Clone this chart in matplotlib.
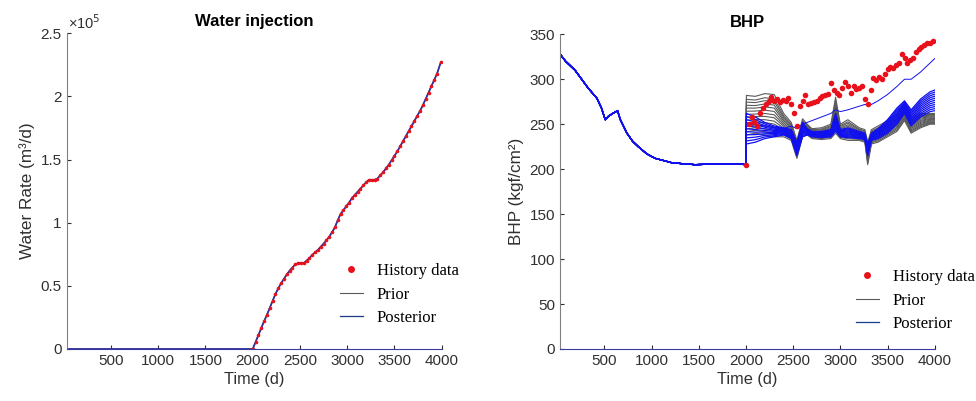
import numpy as np
import matplotlib.pyplot as plt
from matplotlib.lines import Line2D
from matplotlib.ticker import FuncFormatter

plt.rcParams['font.family'] = ['Liberation Sans', 'DejaVu Sans']

# ---- water injection (x1e5 m3/d), history every 30 days from day 2000
wi_time = [2000, 2030, 2060, 2090, 2120, 2150, 2180, 2210, 2240, 2270, 2300, 2330,
           2360, 2390, 2420, 2450, 2480, 2510, 2540, 2570, 2600, 2630, 2660, 2690,
           2720, 2750, 2780, 2810, 2840, 2870, 2900, 2930, 2960, 2990, 3020, 3050,
           3080, 3110, 3140, 3170, 3200, 3230, 3260, 3290, 3320, 3350, 3380, 3410,
           3440, 3470, 3500, 3530, 3560, 3590, 3620, 3650, 3680, 3710, 3740, 3770,
           3800, 3830, 3860, 3890, 3920, 3950, 3990]
wi_rate = [0.0, 0.055, 0.11, 0.165, 0.22, 0.27, 0.325, 0.38, 0.435, 0.48, 0.52, 0.555,
           0.59, 0.62, 0.645, 0.67, 0.68, 0.68, 0.68, 0.70, 0.72, 0.745, 0.765, 0.785,
           0.81, 0.835, 0.86, 0.89, 0.925, 0.965, 1.02, 1.07, 1.10, 1.13, 1.16, 1.195,
           1.22, 1.245, 1.27, 1.295, 1.32, 1.34, 1.34, 1.34, 1.35, 1.375, 1.40, 1.43,
           1.46, 1.495, 1.53, 1.565, 1.605, 1.645, 1.685, 1.725, 1.765, 1.805, 1.845, 1.885,
           1.93, 1.98, 2.03, 2.08, 2.13, 2.18, 2.27]

# ---- BHP, common part before water injection starts
bhp_pre_t = [31, 90, 190, 260, 330, 420, 470, 510, 545, 590, 640, 670, 740, 800,
             860, 950, 1040, 1220, 1460, 1600, 1750, 1900, 2000]
bhp_pre = [328, 320, 310, 300, 290, 279, 268, 255, 259, 262, 265, 255, 240, 231,
           225, 217, 212, 207, 205, 205.5, 206, 206, 205]

# ensemble envelopes after day 2000
ens_t = [2005, 2100, 2200, 2300, 2400, 2480, 2540, 2600, 2650, 2700, 2800, 2900, 2950,
         3000, 3080, 3200, 3260, 3290, 3330, 3400, 3500, 3600, 3680, 3750, 3850, 3950, 4000]
prior_lo = [238, 240, 238, 236, 236, 232, 212, 236, 238, 234, 233, 234, 240,
            234, 232, 232, 230, 205, 228, 230, 236, 242, 254, 240, 246, 250, 250]
prior_hi = [282, 281, 284, 283, 262, 252, 232, 256, 250, 245, 246, 250, 280,
            250, 255, 246, 244, 230, 244, 248, 254, 262, 274, 258, 262, 262, 262]
post_lo = [228, 230, 234, 236, 238, 234, 215, 236, 238, 236, 235, 236, 242,
           236, 235, 234, 233, 215, 232, 234, 240, 250, 262, 248, 258, 264, 265]
post_hi = [262, 258, 252, 248, 246, 244, 230, 252, 245, 242, 242, 244, 262,
           244, 246, 242, 240, 228, 240, 245, 255, 268, 276, 266, 278, 286, 288]
post_outlier = [250, 250, 248, 246, 245, 248, 245, 250, 252, 254, 258, 262, 266,
                264, 266, 270, 272, 271, 272, 276, 283, 292, 300, 300, 308, 318, 323]
prior_frac = [0.0, 0.08, 0.15, 0.22, 0.3, 0.37, 0.45, 0.52, 0.6, 0.68, 0.75, 0.83, 0.9, 1.0]
post_frac = [0.0, 0.1, 0.2, 0.3, 0.4, 0.5, 0.6, 0.7, 0.8, 0.9, 1.0]

# BHP history data
bhp_hist_t = wi_time[:-1] + [3980]
bhp_hist = [205, 250, 258, 252, 248, 262, 268, 272, 276, 280, 276, 278,
            275, 277, 276, 279, 272, 262, 248, 270, 276, 283, 273, 274,
            275, 276, 279, 281, 283, 284, 296, 288, 285, 282, 290, 297,
            292, 285, 292, 289, 290, 292, 278, 273, 288, 301, 299, 302,
            300, 306, 311, 314, 312, 316, 318, 328, 324, 318, 321, 324,
            330, 334, 336, 338, 340, 340, 342]

GREY = '#5a5a5a'
BLUE = '#1010f0'
RED = '#e8101a'
TXT = '#303030'

fig = plt.figure(figsize=(9.76, 4.01), dpi=100)
ax1 = fig.add_axes([0.0683, 0.1297, 0.3843, 0.7873])
ax2 = fig.add_axes([0.5738, 0.1297, 0.3839, 0.7848])

# water injection
sim_t = [31] + wi_time
sim_v = [0.0] + wi_rate
ax1.plot(sim_t, sim_v, color=GREY, lw=1.0)
ax1.plot(sim_t, sim_v, color='#3030a0', lw=1.2)
ax1.plot(wi_time, wi_rate, 'o', color=RED, ms=2.6, mec='none')
ax1.set_ylim(0, 2.5)
ax1.yaxis.set_major_formatter(FuncFormatter(lambda v, p: '%g' % v))
ax1.set_ylabel('Water Rate (m³/d)', fontsize=12.3, color=TXT, labelpad=4)
ax1.set_title('Water injection', fontsize=12, fontweight='bold', pad=5)
ax1.text(0.003, 1.005, '×10$^5$', transform=ax1.transAxes, fontsize=10.5, color=TXT,
         ha='left', va='bottom')

# BHP
pre_t = np.array(bhp_pre_t)
pre_v = np.array(bhp_pre)
et = np.array(ens_t)
plo, phi = np.array(prior_lo), np.array(prior_hi)
qlo, qhi = np.array(post_lo), np.array(post_hi)
for f in prior_frac:
    ax2.plot(np.r_[pre_t, et], np.r_[pre_v, plo + f * (phi - plo)], color=GREY, lw=0.8)
for f in post_frac:
    ax2.plot(np.r_[pre_t, et], np.r_[pre_v, qlo + f * (qhi - qlo)], color=BLUE, lw=0.9)
ax2.plot(np.r_[pre_t, et], np.r_[pre_v, post_outlier], color=BLUE, lw=0.7)
ax2.plot(bhp_hist_t, bhp_hist, 'o', color=RED, ms=4, mec='none')
ax2.set_ylim(0, 350)
ax2.set_yticks(range(0, 351, 50))
ax2.set_ylabel('BHP (kgf/cm²)', fontsize=12.3, color=TXT, labelpad=4)
ax2.set_title('BHP', fontsize=12, fontweight='bold', pad=5)

legend_pos = {ax1: (0.729, 0.272), ax2: (0.790, 0.254)}
for ax in (ax1, ax2):
    ax.set_xlim(31, 4000)
    ax.set_xticks(range(500, 4001, 500))
    ax.set_xlabel('Time (d)', fontsize=11.8, color=TXT, labelpad=3)
    ax.spines['top'].set_visible(False)
    ax.spines['right'].set_visible(False)
    ax.spines['left'].set_color('#808080')
    ax.spines['bottom'].set_color('#3a3aa0')
    ax.tick_params(direction='in', length=3, labelsize=11, colors=TXT,
                   top=False, right=False)
    handles = [Line2D([], [], ls='none', marker='o', color=RED, ms=5, mec='none'),
               Line2D([], [], color=GREY, lw=0.8),
               Line2D([], [], color='#1a3a8a', lw=0.9)]
    ax.legend(handles, ['History data', 'Prior', 'Posterior'], loc='upper left',
              bbox_to_anchor=legend_pos[ax], frameon=False, borderpad=0,
              borderaxespad=0, handlelength=1.35, handletextpad=0.85,
              labelspacing=0.45, prop={'family': 'Liberation Serif', 'size': 12})

fig.savefig('out.png', dpi=100)
